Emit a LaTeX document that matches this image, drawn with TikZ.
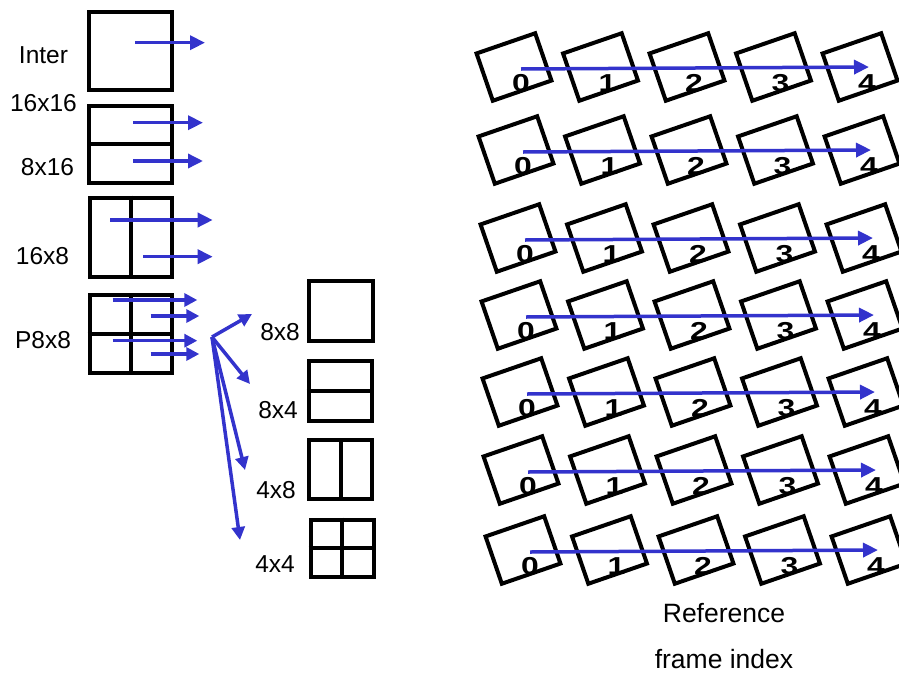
\documentclass[tikz,border=0pt]{standalone}
\usepackage{fontspec}
\setmainfont{Liberation Sans}
\usetikzlibrary{arrows.meta}
\definecolor{arrblue}{RGB}{51,51,204}
\begin{document}
\begin{tikzpicture}[x=1pt,y=-1pt,
  blk/.style 2 args={draw=black,line width=4pt,inner sep=0pt,minimum width=#1,minimum height=#2},
  rbox/.style={draw=black,line width=4pt,inner sep=0pt,minimum width=62pt,minimum height=50pt,rotate=19},
  div/.style={draw=black,line width=4pt},
  lbl/.style={inner sep=0pt,anchor=base,font=\fontsize{24.5}{28}\selectfont},
  num/.style={inner sep=0pt,anchor=base,font=\fontsize{24.5}{28}\selectfont\bfseries},
  mv/.style={draw=arrblue,line width=3.5pt,-{Triangle[length=15pt,width=14pt]}},
  mvs/.style={draw=arrblue,line width=3.5pt,-{Triangle[length=13pt,width=13pt]}}
]
\useasboundingbox (0,0) rectangle (899,672);

% ---------- left partition boxes ----------
\node[blk={83pt}{78pt}] (inter) at (130.8,51) {};
\node[blk={83pt}{77pt}] (b1616) at (130.5,144) {};
\draw[div] (b1616.west) -- (b1616.east);
\node[blk={82pt}{79pt}] (b168) at (130.5,237) {};
\draw[div] (b168.north) -- (b168.south);
\node[blk={82pt}{78pt}] (p88) at (130.5,334) {};
\draw[div] (p88.north) -- (p88.south);
\draw[div] (p88.west) -- (p88.east);

\node[lbl] (tinter) at (43.5,63) {Inter};
\node[lbl] (t1616) at (43.5,111) {16x16};
\node[lbl] (t816) at (47.5,175) {8x16};
\node[lbl] (t168) at (42.5,264) {16x8};
\node[lbl] (tp88) at (43,348) {P8x8};

% sub-partition boxes
\node[blk={64pt}{60pt}] (s88) at (341.3,311) {};
\node[blk={63pt}{60pt}] (s84) at (340,390.7) {};
\draw[div] (s84.west) -- (s84.east);
\node[blk={63pt}{59pt}] (s48) at (340.8,469.7) {};
\draw[div] (s48.north) -- (s48.south);
\node[blk={63pt}{57pt}] (s44) at (342,548) {};
\draw[div] (s44.north) -- (s44.south);
\draw[div] (s44.west) -- (s44.east);

\node[lbl] (t88) at (280,340) {8x8};
\node[lbl] (t84) at (278,418) {8x4};
\node[lbl] (t48) at (276,498) {4x8};
\node[lbl] (t44) at (275,572) {4x4};

% left motion vectors
\coordinate (a1s) at (135,42.7);   \coordinate (a1e) at (205,42.7);
\coordinate (a2s) at (133,122.7);  \coordinate (a2e) at (203,122.7);
\coordinate (a3s) at (133,161);    \coordinate (a3e) at (203,161);
\coordinate (a4s) at (110,220);    \coordinate (a4e) at (212.7,220);
\coordinate (a5s) at (143,256.7);  \coordinate (a5e) at (212.7,256.7);
\draw[mv] (a1s) -- (a1e);
\draw[mv] (a2s) -- (a2e);
\draw[mv] (a3s) -- (a3e);
\draw[mv] (a4s) -- (a4e);
\draw[mv] (a5s) -- (a5e);

\coordinate (p1s) at (112.7,300);   \coordinate (p1e) at (197.3,300);
\coordinate (p2s) at (150.7,316);   \coordinate (p2e) at (199.3,316);
\coordinate (p3s) at (112.7,340.7); \coordinate (p3e) at (197.3,340.7);
\coordinate (p4s) at (150.7,354);   \coordinate (p4e) at (199.3,354);
\draw[mvs] (p1s) -- (p1e);
\draw[mvs] (p2s) -- (p2e);
\draw[mvs] (p3s) -- (p3e);
\draw[mvs] (p4s) -- (p4e);

% fan of arrows
\coordinate (fan) at (212,337);
\coordinate (f1) at (252,314);
\coordinate (f2) at (250,384);
\coordinate (f3) at (245,470);
\coordinate (f4) at (240,540);
\draw[mvs] (fan) -- (f1);
\draw[mvs] (fan) -- (f2);
\draw[mvs] (fan) -- (f3);
\draw[mvs] (fan) -- (f4);

% ---------- reference frame grid ----------
\foreach \r/\x/\y in {1/514/67, 2/516/150, 3/518/238, 4/519/315, 5/520/392, 6/521/470, 7/523/550} {
  \foreach \c in {0,...,4} {
    \node[rbox] (b\r\c) at ({\x+86.5*\c},\y) {};
  }
  \coordinate (rs\r) at ({\x+7},{\y+2});
  \coordinate (re\r) at ({\x+355},{\y});
  \draw[mv] (rs\r) -- (re\r);
  \foreach \c in {0,...,4} {
    \node[num] (n\r\c) at ({\x+86.5*\c+7},{\y+24}) {\scalebox{1.3}[1]{\c}};
  }
}

\node[lbl,font=\fontsize{26.5}{30}\selectfont] (tref) at (724,622) {Reference};
\node[lbl,font=\fontsize{26.5}{30}\selectfont] (tfi) at (724,668) {frame index};
\end{tikzpicture}
\end{document}
